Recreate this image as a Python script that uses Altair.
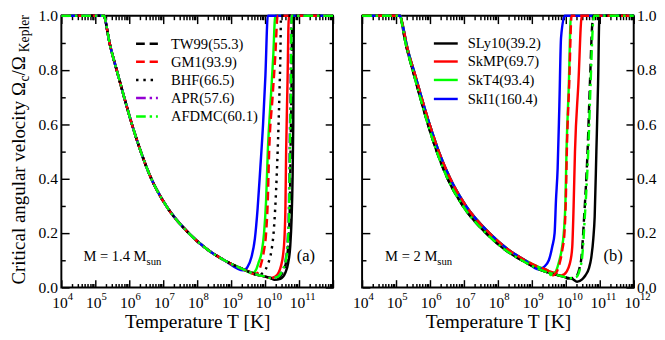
import altair as alt
import pandas as pd

FONT = "Liberation Serif"

# ---------------- tick positions ----------------
decades = [1e4, 1e5, 1e6, 1e7, 1e8, 1e9, 1e10, 1e11, 1e12]
minor_T = [m * d for d in decades[:-1] for m in range(2, 10)]
y_major = [0.0, 0.2, 0.4, 0.6, 0.8, 1.0]
y_minor = [0.1, 0.3, 0.5, 0.7, 0.9]

# ---------------- panel (a): M = 1.4 Msun ----------------
# shared low-temperature branch (log10 T, Omega_c / Omega_Kepler)
a_base_logT = [4.0, 5.0, 5.26, 5.31, 5.36, 5.42, 5.52, 5.63, 5.85, 6.08, 6.34, 6.65, 7.09, 7.75,
               8.3, 8.8, 9.39, 9.8, 10.0, 10.15, 10.3]
a_base_val = [1.0, 1.0, 1.0, 0.975, 0.94, 0.9, 0.85, 0.8, 0.7, 0.6, 0.5, 0.4, 0.3, 0.2,
              0.14, 0.1, 0.065, 0.046, 0.04, 0.035, 0.03]

# high-temperature branches (log10 T, Omega_c / Omega_Kepler)
a_rise_logT = {
    "SLy10(39.2)": [10.28, 10.45, 10.6, 10.68, 10.74, 10.78, 10.81, 10.83, 10.85],
    "SkMP(69.7)": [10.15, 10.3, 10.4, 10.47, 10.53, 10.57, 10.60, 10.62, 10.66, 10.70],
    "SkT4(93.4)": [9.62, 9.72, 9.81, 9.90, 9.97, 10.03, 10.08, 10.17, 10.24, 10.30],
    "SkI1(160.4)": [9.36, 9.48, 9.60, 9.70, 9.78, 9.86, 9.94, 10.01, 10.08],
    "TW99(55.3)": [10.2, 10.4, 10.53, 10.63, 10.69, 10.73, 10.75, 10.78, 10.80],
    "GM1(93.9)": [9.70, 9.80, 9.88, 9.96, 10.03, 10.08, 10.12, 10.22, 10.30, 10.37],
    "BHF(66.5)": [9.80, 9.95, 10.08, 10.18, 10.25, 10.31, 10.37, 10.42, 10.45, 10.47],
    "APR(57.6)": [10.15, 10.35, 10.5, 10.6, 10.66, 10.70, 10.72, 10.75, 10.77],
    "AFDMC(60.1)": [10.15, 10.35, 10.5, 10.61, 10.67, 10.71, 10.73, 10.76, 10.78],
}
a_rise_val = {
    "SLy10(39.2)": [0.028, 0.032, 0.055, 0.09, 0.15, 0.25, 0.4, 0.6, 1.0],
    "SkMP(69.7)": [0.035, 0.04, 0.055, 0.08, 0.12, 0.18, 0.3, 0.5, 0.75, 1.0],
    "SkT4(93.4)": [0.052, 0.062, 0.092, 0.13, 0.2, 0.32, 0.5, 0.7, 0.85, 1.0],
    "SkI1(160.4)": [0.063, 0.075, 0.112, 0.18, 0.29, 0.44, 0.60, 0.78, 1.0],
    "TW99(55.3)": [0.033, 0.036, 0.06, 0.1, 0.17, 0.3, 0.5, 0.75, 1.0],
    "GM1(93.9)": [0.049, 0.056, 0.085, 0.13, 0.2, 0.32, 0.5, 0.7, 0.85, 1.0],
    "BHF(66.5)": [0.046, 0.055, 0.085, 0.13, 0.2, 0.32, 0.5, 0.7, 0.85, 1.0],
    "APR(57.6)": [0.035, 0.038, 0.06, 0.1, 0.17, 0.3, 0.5, 0.75, 1.0],
    "AFDMC(60.1)": [0.035, 0.038, 0.06, 0.1, 0.17, 0.3, 0.5, 0.75, 1.0],
}

# ---------------- panel (b): M = 2 Msun ----------------
b_low_logT = [4.0, 5.0, 5.12, 5.17, 5.22, 5.28, 5.38, 5.49, 5.71, 5.94, 6.2, 6.52, 6.97, 7.65,
              8.2, 8.7, 9.35, 9.7, 10.0, 10.2]
b_low_val = [1.0, 1.0, 1.0, 0.975, 0.94, 0.9, 0.85, 0.8, 0.7, 0.6, 0.5, 0.4, 0.3, 0.2,
             0.14, 0.1, 0.06, 0.047, 0.037, 0.031]
b_high_logT = [4.0, 5.0, 5.12, 5.18, 5.24, 5.30, 5.40, 5.52, 5.75, 5.99, 6.26, 6.6, 7.06, 7.75,
               8.3, 8.8, 9.2, 9.5, 9.7, 10.0]
b_high_val = [1.0, 1.0, 1.0, 0.975, 0.94, 0.9, 0.85, 0.8, 0.7, 0.6, 0.5, 0.4, 0.3, 0.2,
              0.14, 0.1, 0.075, 0.06, 0.052, 0.04]

b_rise_logT = {
    "SLy10(39.2)": [10.33, 10.48, 10.58, 10.68, 10.75, 10.81, 10.85, 10.90, 10.95, 10.99],
    "SkMP(69.7)": [9.80, 9.95, 10.07, 10.14, 10.19, 10.23, 10.27, 10.37, 10.47],
    "SkT4(93.4)": [9.55, 9.70, 9.79, 9.88, 9.94, 9.99, 10.02, 10.09, 10.15],
    "SkI1(160.4)": [9.20, 9.35, 9.50, 9.60, 9.67, 9.71, 9.76, 9.81, 9.86, 9.97],
    "TW99(55.3)": [10.05, 10.28, 10.40, 10.46, 10.54, 10.64, 10.71, 10.78, 10.82],
    "GM1(93.9)": [9.60, 9.72, 9.81, 9.90, 9.96, 10.00, 10.03, 10.10, 10.17],
    "AFDMC(60.1)": [10.10, 10.30, 10.42, 10.48, 10.56, 10.66, 10.73, 10.80, 10.84],
}
b_rise_val = {
    "SLy10(39.2)": [0.021, 0.03, 0.045, 0.07, 0.11, 0.18, 0.26, 0.5, 0.75, 1.0],
    "SkMP(69.7)": [0.043, 0.048, 0.07, 0.1, 0.15, 0.3, 0.5, 0.75, 1.0],
    "SkT4(93.4)": [0.046, 0.058, 0.09, 0.14, 0.2, 0.32, 0.5, 0.75, 1.0],
    "SkI1(160.4)": [0.066, 0.075, 0.1, 0.15, 0.2, 0.32, 0.44, 0.67, 0.92, 1.0],
    "TW99(55.3)": [0.033, 0.037, 0.07, 0.11, 0.26, 0.5, 0.75, 0.97, 1.0],
    "GM1(93.9)": [0.044, 0.055, 0.085, 0.14, 0.2, 0.32, 0.5, 0.75, 1.0],
    "AFDMC(60.1)": [0.034, 0.038, 0.07, 0.11, 0.26, 0.5, 0.75, 0.97, 1.0],
}
b_uses_high = ["SkMP(69.7)", "SkT4(93.4)", "SkI1(160.4)", "GM1(93.9)"]

legend_a = ["TW99(55.3)", "GM1(93.9)", "BHF(66.5)", "APR(57.6)", "AFDMC(60.1)"]
legend_b = ["SLy10(39.2)", "SkMP(69.7)", "SkT4(93.4)", "SkI1(160.4)"]
draw_order = ["SLy10(39.2)", "SkMP(69.7)", "SkT4(93.4)", "SkI1(160.4)",
              "TW99(55.3)", "GM1(93.9)", "BHF(66.5)", "APR(57.6)", "AFDMC(60.1)"]

# ---------------- styles ----------------
style = {
    "SLy10(39.2)": ("#000000", None),
    "SkMP(69.7)": ("#ff0000", None),
    "SkT4(93.4)": ("#00ff00", None),
    "SkI1(160.4)": ("#0000ff", None),
    "TW99(55.3)": ("#000000", [9, 5]),
    "GM1(93.9)": ("#ff0000", [9, 5]),
    "BHF(66.5)": ("#000000", [2.5, 5]),
    "APR(57.6)": ("#9400d3", [10, 4, 2.5, 4]),
    "AFDMC(60.1)": ("#00ff00", [10, 4, 2.5, 4]),
}
LW = 2.5
W, H = 280, 280

xs = alt.Scale(type="log", domain=[1e4, 1e12], nice=False)
ys = alt.Scale(domain=[0, 1], nice=False, zero=False)
frame_df = pd.DataFrame({"T": [1e4, 1e12], "v": [0.0, 1.0]})
one = pd.DataFrame({"k": [0]})


def ax(orient, values, size, labels=False, **kw):
    d = dict(orient=orient, values=values, tickSize=size, offset=-size, domain=False, grid=False,
             ticks=True, tickColor="black", tickWidth=1.5, labels=labels, title=None,
             labelFont=FONT, labelColor="black", labelOverlap=False, labelFlush=False)
    d.update(kw)
    return alt.Axis(**d)


def axis_layer(xaxis, yaxis):
    return alt.Chart(frame_df).mark_point(size=0, opacity=0).encode(
        x=alt.X("T:Q", scale=xs, axis=xaxis),
        y=alt.Y("v:Q", scale=ys, axis=yaxis),
    )


def axes(panel):
    cut = 150000000000 if panel == "a" else 15000000000000
    xmaj = ax("bottom", decades, 8, labels=True,
              labelExpr=f"datum.value > {cut} ? '' : '10'", labelFontSize=16,
              labelPadding=8, labelOffset=-2,
              title="Temperature T [K]", titleFont=FONT, titleFontSize=20,
              titleFontWeight="normal", titleColor="black", titlePadding=1)
    xexp = ax("bottom", decades, 8, labels=True, tickOpacity=0,
              labelExpr=f"datum.value > {cut} ? '' : format(round(log(datum.value)/LN10), 'd')",
              labelFontSize=11, labelAlign="left", labelOffset=6, labelPadding=3)
    xmin_b = ax("bottom", minor_T, 4)
    xmaj_t = ax("top", decades, 8)
    xmin_t = ax("top", minor_T, 4)
    ylab = dict(labels=True, format=".1f", labelFontSize=16)
    if panel == "a":
        ymaj_l = ax("left", y_major, 8, labelPadding=4, **ylab)
        ymaj_r = ax("right", y_major, 8)
    else:
        ymaj_l = ax("left", y_major, 8)
        ymaj_r = ax("right", y_major, 8, labelPadding=3, **ylab)
    ymin_l = ax("left", y_minor, 4)
    ymin_r = ax("right", y_minor, 4)
    return [
        axis_layer(xmaj, ymaj_l),
        axis_layer(xmin_b, ymin_l),
        axis_layer(xmaj_t, ymaj_r),
        axis_layer(xmin_t, ymin_r),
        axis_layer(xexp, None),
    ]


def curve(base_t, base_v, rise_t, rise_v, name):
    t0 = rise_t[0]
    ts = [t for t in base_t if t < t0] + list(rise_t) + [12.0]
    vs = [v for t, v in zip(base_t, base_v) if t < t0] + list(rise_v) + [1.0]
    df = pd.DataFrame({"T": [10.0 ** t for t in ts], "v": vs, "i": list(range(len(ts)))})
    color, dash = style[name]
    kw = dict(color=color, strokeWidth=LW, interpolate="monotone")
    if dash:
        kw["strokeDash"] = dash
    return alt.Chart(df).mark_line(**kw).encode(
        x=alt.X("T:Q", scale=xs, axis=None),
        y=alt.Y("v:Q", scale=ys, axis=None),
        order="i:Q",
    )


def txt(x, y, s, size, align="left", baseline="alphabetic", angle=0):
    kw = dict(font=FONT, fontSize=size, align=align, baseline=baseline, color="black")
    if angle:
        kw["angle"] = angle
    return alt.Chart(one).mark_text(**kw).encode(
        x=alt.value(x), y=alt.value(y), text=alt.value(s))


def legend(names, x1, x2, xt, ys_):
    out = []
    for n, yy in zip(names, ys_):
        color, dash = style[n]
        kw = dict(color=color, strokeWidth=LW)
        if dash:
            kw["strokeDash"] = dash
        out.append(alt.Chart(one).mark_rule(**kw).encode(
            x=alt.value(x1), x2=alt.value(x2), y=alt.value(yy)))
        out.append(txt(xt, yy, n, 15, baseline="middle"))
    return out


# ---------------- panel (a) ----------------
a_curves = [curve(a_base_logT, a_base_val, a_rise_logT[n], a_rise_val[n], n)
            for n in draw_order if n in a_rise_logT]
ytx, ysub = -37.5, -33.5
a_text = [
    txt(ytx, 277, "Critical angular velocity Ω", 19.5, angle=270),
    txt(ysub, 67.6, "c", 14, angle=270),
    txt(ytx, 61.4, " /Ω", 19.5, angle=270),
    txt(ysub, 37.5, "Kepler", 14, angle=270),
    txt(22.7, 252.4, "M = 1.4 M", 15),
    txt(87.8, 256.4, "sun", 11),
    txt(252, 247.5, "(a)", 17, align="center", baseline="middle"),
]
panel_a = alt.layer(
    *axes("a"), *a_curves,
    *legend(legend_a, 77, 99.5, 113, [28.8, 47.4, 66.1, 84.7, 103.8]),
    *a_text,
).resolve_axis(x="independent", y="independent").properties(width=W, height=H)

# ---------------- panel (b) ----------------
b_curves = []
for n in draw_order:
    if n in b_rise_logT:
        if n in b_uses_high:
            bt, bv = b_high_logT, b_high_val
        else:
            bt, bv = b_low_logT, b_low_val
        b_curves.append(curve(bt, bv, b_rise_logT[n], b_rise_val[n], n))
b_text = [
    txt(23.7, 252.4, "M = 2 M", 15),
    txt(77.6, 256.4, "sun", 11),
    txt(258.8, 247.5, "(b)", 17, align="center", baseline="middle"),
]
panel_b = alt.layer(
    *axes("b"), *b_curves,
    *legend(legend_b, 74, 98.6, 108.8, [28.5, 47.1, 66.1, 85.7]),
    *b_text,
).resolve_axis(x="independent", y="independent").properties(width=W, height=H)

chart = alt.hconcat(panel_a, panel_b, spacing=12).properties(
    padding={"left": 0, "right": 0, "top": -6, "bottom": 0},
    background="white",
).configure_view(stroke="black", strokeWidth=2)

chart.save("out.html", embed_options={"renderer": "svg", "actions": False})
